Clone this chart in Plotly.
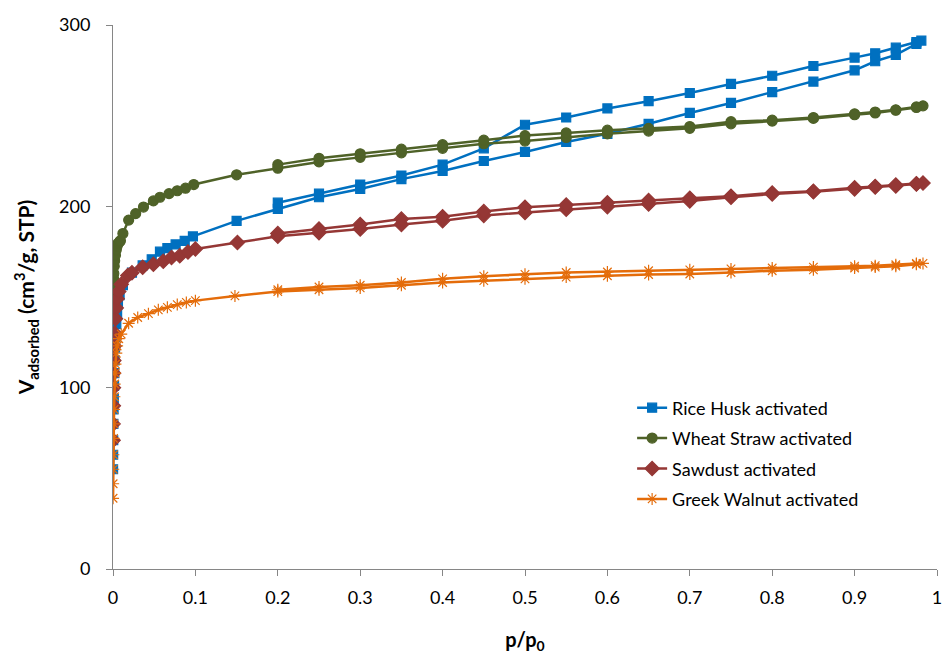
import plotly.graph_objects as go

# Rice Husk activated (adsorption then desorption)
rh_p = [0.0001, 0.0002, 0.0003, 0.0005, 0.0007, 0.001, 0.0013, 0.0016, 0.002, 0.0025, 0.003, 0.004, 0.005, 0.006, 0.008,
        0.012, 0.023, 0.036, 0.047, 0.057, 0.066, 0.076, 0.087, 0.097, 0.15, 0.2, 0.25, 0.3, 0.35, 0.4, 0.45, 0.5, 0.55,
        0.6, 0.65, 0.7, 0.75, 0.8, 0.85, 0.9, 0.925, 0.95, 0.975, 0.981,
        0.975, 0.95, 0.925, 0.9, 0.85, 0.8, 0.75, 0.7, 0.65, 0.6, 0.55, 0.5, 0.45, 0.4, 0.35, 0.3, 0.25, 0.2]
rh_v = [55, 63, 71, 80, 88, 94, 101, 108, 115, 122, 128, 135, 141, 146, 151,
        156.5, 163.4, 167.4, 170.8, 175, 177, 179, 181, 183.4, 192, 198.6, 205, 209.6, 215, 219.5, 225, 230, 235.5,
        240, 245.5, 251.5, 257, 263, 268.8, 275, 280, 283.5, 289.6, 291.4,
        290.6, 287.5, 284.4, 282, 277.4, 272, 267.5, 262.5, 258, 254, 249, 245, 232, 223, 217, 212, 207, 202]

# Wheat Straw activated
ws_p = [0.0001, 0.0003, 0.0005, 0.0008, 0.001, 0.0015, 0.002, 0.003, 0.004, 0.005, 0.006, 0.008, 0.009,
        0.012, 0.019, 0.0275, 0.037, 0.049, 0.057, 0.068, 0.078, 0.088, 0.098, 0.15, 0.2, 0.25, 0.3, 0.35, 0.4,
        0.45, 0.5, 0.55, 0.6, 0.65, 0.7, 0.75, 0.8, 0.85, 0.9, 0.925, 0.95, 0.975, 0.983,
        0.975, 0.95, 0.925, 0.9, 0.85, 0.8, 0.75, 0.7, 0.65, 0.6, 0.55, 0.5, 0.45, 0.4, 0.35, 0.3, 0.25, 0.2]
ws_v = [147, 152, 156, 160, 163, 167, 170, 173, 176, 178, 179.5, 180.5, 181,
        185, 192.4, 196, 199.6, 203, 205, 207, 208.6, 210, 212, 217.4, 221, 224.5, 227, 229.5, 232,
        234.5, 236, 238, 240, 241.5, 243, 245.5, 247, 248.5, 250.5, 251.5, 253, 254.5, 255.4,
        254.8, 253.2, 252, 251, 249, 247.5, 246.7, 244, 243, 242, 240.5, 239, 236.5, 234, 231.5, 229, 226.5, 223]

# Sawdust activated
sd_p = [0.0001, 0.0002, 0.0004, 0.0006, 0.0008, 0.001, 0.0015, 0.002, 0.003, 0.004, 0.005, 0.007,
        0.010, 0.018, 0.023, 0.036, 0.049, 0.061, 0.071, 0.081, 0.091, 0.1, 0.151, 0.2, 0.25, 0.3, 0.35, 0.4,
        0.45, 0.5, 0.55, 0.6, 0.65, 0.7, 0.75, 0.8, 0.85, 0.9, 0.925, 0.95, 0.975, 0.983,
        0.975, 0.95, 0.925, 0.9, 0.85, 0.8, 0.75, 0.7, 0.65, 0.6, 0.55, 0.5, 0.45, 0.4, 0.35, 0.3, 0.25, 0.2]
sd_v = [71, 80, 90, 100, 108, 115, 123, 130, 138, 144, 149, 153,
        157, 161.8, 163.4, 166.4, 168, 169.7, 171.8, 172.7, 174.8, 176.5, 180, 183.5, 185.5, 187.5, 190, 192,
        195, 196.6, 198.4, 199.8, 201.3, 203, 205, 206.8, 208, 209.6, 210.6, 211.2, 212.3, 212.8,
        212.5, 211.8, 211, 210.2, 208.3, 207.4, 205.6, 204.5, 203.2, 202, 200.8, 199.5, 197.1, 194.3, 193, 190, 187.5, 185]

# Greek Walnut activated
gw_p = [0.0001, 0.0002, 0.0003, 0.0005, 0.0007, 0.001, 0.0013, 0.0017, 0.002, 0.0025, 0.003, 0.004, 0.005, 0.007,
        0.010, 0.019, 0.030, 0.043, 0.055, 0.066, 0.078, 0.089, 0.1, 0.148, 0.2, 0.25, 0.3, 0.35, 0.4,
        0.45, 0.5, 0.55, 0.6, 0.65, 0.7, 0.75, 0.8, 0.85, 0.9, 0.925, 0.95, 0.975, 0.983,
        0.975, 0.95, 0.925, 0.9, 0.85, 0.8, 0.75, 0.7, 0.65, 0.6, 0.55, 0.5, 0.45, 0.4, 0.35, 0.3, 0.25, 0.2]
gw_v = [39, 47, 55, 63, 72, 80, 88, 95, 102, 108, 113, 119, 123, 127,
        129.5, 135.5, 138.7, 140.8, 142.9, 144.3, 145.8, 147, 148, 150.6, 153, 154, 155, 156.5, 158,
        159, 160, 161, 161.7, 162.4, 162.7, 163.5, 164.5, 165, 166, 166.5, 167, 168, 168.5,
        168.5, 167.8, 167.3, 167, 166.5, 166, 165.5, 165, 164.5, 163.8, 163.5, 162.5, 161.5, 160, 158, 156.5, 155.5, 154]

x_ticks = [0, 0.1, 0.2, 0.3, 0.4, 0.5, 0.6, 0.7, 0.8, 0.9, 1]
x_tick_labels = ["0", "0.1", "0.2", "0.3", "0.4", "0.5", "0.6", "0.7", "0.8", "0.9", "1"]
y_ticks = [0, 100, 200, 300]

series = [
    ("Rice Husk activated", rh_p, rh_v, "#0070C0", "square", 9),
    ("Wheat Straw activated", ws_p, ws_v, "#4F6228", "circle", 10),
    ("Sawdust activated", sd_p, sd_v, "#953735", "diamond", 11),
    ("Greek Walnut activated", gw_p, gw_v, "#E46C0A", "asterisk-open", 10),
]

FONT = "Lato, Open Sans, sans-serif"

fig = go.Figure()
for name, p, v, col, sym, sz in series:
    fig.add_trace(go.Scatter(
        x=p, y=v, name=name, mode="lines+markers", legendgroup=name,
        line=dict(color=col, width=2.5),
        marker=dict(symbol=sym, size=sz, color=col, line=dict(color=col, width=1.2)),
    ))

axis_common = dict(showgrid=False, zeroline=False, showline=True, linecolor="#868686", linewidth=1,
                   ticks="outside", ticklen=6, tickcolor="#868686", automargin=False,
                   tickfont=dict(family=FONT, size=18, color="#000000"))

fig.update_layout(
    width=943, height=654,
    margin=dict(l=113, r=6, t=25, b=85),
    plot_bgcolor="white", paper_bgcolor="white",
    font=dict(family=FONT, size=18, color="#000000"),
    xaxis=dict(range=[0, 1], tickvals=x_ticks, ticktext=x_tick_labels, ticklabelstandoff=6,
               title=dict(text="<b>p/p<sub>0</sub></b>", font=dict(size=20), standoff=28), **axis_common),
    yaxis=dict(range=[0, 300], tickvals=y_ticks, ticklabelstandoff=12,
               title=dict(text="<b>V<sub>adsorbed</sub> (cm<sup>3</sup>/g, STP)</b>", font=dict(size=21), standoff=18),
               **axis_common),
    legend=dict(x=0.63, y=0.33, xanchor="left", yanchor="top", bgcolor="rgba(0,0,0,0)",
                font=dict(size=18), traceorder="grouped", tracegroupgap=4, itemwidth=30),
    showlegend=True,
)

fig.write_html("out.html")
